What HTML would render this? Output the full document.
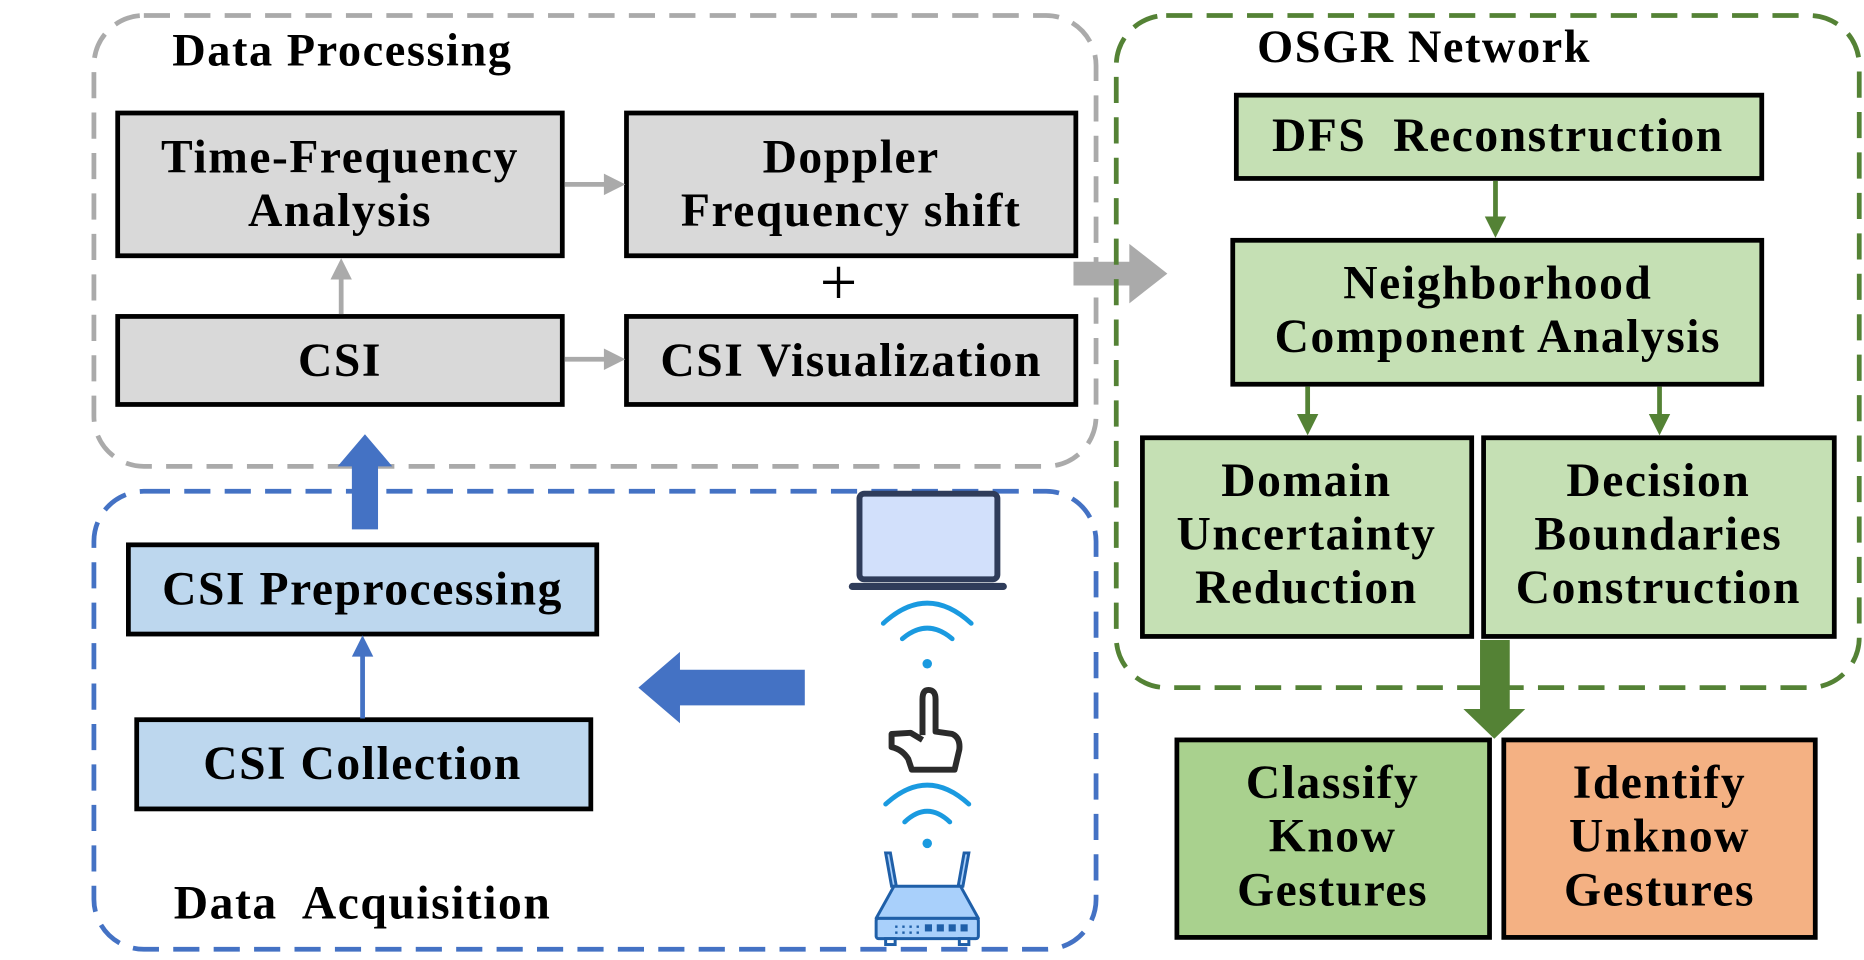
<!DOCTYPE html>
<html><head><meta charset="utf-8"><style>
html,body{margin:0;padding:0;background:#fff;}
svg{display:block;}
text{font-family:"Liberation Serif",serif;font-weight:bold;font-size:40px;letter-spacing:1.3px;fill:#000;text-anchor:middle;}
</style></head><body>
<svg width="1864" height="960" viewBox="0 0 1568 807" preserveAspectRatio="none" xmlns="http://www.w3.org/2000/svg">
<!-- Data processing -->
<rect x="79" y="13" width="843" height="379" rx="42" fill="none" stroke="#aaaaaa" stroke-width="4" stroke-dasharray="22 12"/>
<text x="288" y="55" style="font-size:39px">Data Processing</text>
<rect x="99" y="95" width="374" height="120" fill="#d9d9d9" stroke="#000" stroke-width="4"/>
<text x="286" y="145">Time-Frequency</text><text x="286" y="190">Analysis</text>
<rect x="527" y="95" width="378" height="120" fill="#d9d9d9" stroke="#000" stroke-width="4"/>
<text x="716" y="145">Doppler</text><text x="716" y="190">Frequency shift</text>
<text x="706" y="256" style="font-size:56px;font-weight:normal">+</text>
<rect x="99" y="266" width="374" height="74" fill="#d9d9d9" stroke="#000" stroke-width="4"/>
<text x="286" y="316">CSI</text>
<rect x="527" y="266" width="378" height="74" fill="#d9d9d9" stroke="#000" stroke-width="4"/>
<text x="716" y="316">CSI Visualization</text>
<g fill="#aaaaaa" stroke="#aaaaaa">
<line x1="475" y1="155" x2="510" y2="155" stroke-width="4"/><polygon points="508,146 526,155 508,164" stroke="none"/>
<line x1="475" y1="302" x2="510" y2="302" stroke-width="4"/><polygon points="508,293 526,302 508,311" stroke="none"/>
<line x1="287" y1="264" x2="287" y2="233" stroke-width="4"/><polygon points="278,235 287,217 296,235" stroke="none"/>
<polygon points="903,220 950,220 950,205 982,230 950,255 950,240 903,240" stroke="none"/>
</g>
<!-- Data acquisition -->
<rect x="79" y="413" width="843" height="385" rx="42" fill="none" stroke="#4472c4" stroke-width="4" stroke-dasharray="22 12"/>
<polygon points="296,445 318,445 318,392 330,392 307,365 284,392 296,392" fill="#4472c4"/>
<rect x="108" y="458" width="394" height="75" fill="#bdd7ee" stroke="#000" stroke-width="4"/>
<text x="305" y="508">CSI Preprocessing</text>
<rect x="115" y="605" width="382" height="75" fill="#bdd7ee" stroke="#000" stroke-width="4"/>
<text x="305" y="655">CSI Collection</text>
<line x1="305" y1="604" x2="305" y2="550" stroke="#4472c4" stroke-width="4"/><polygon points="296,552 305,534 314,552" fill="#4472c4"/>
<polygon points="677,563 572,563 572,548 537,578 572,608 572,593 677,593" fill="#4472c4"/>
<text x="305" y="772">Data&#160; Acquisition</text>
<!-- icons -->
<rect x="723" y="415" width="116" height="72" rx="4" fill="#d2e0fb" stroke="#2f3c5a" stroke-width="5"/>
<rect x="714" y="490" width="133" height="6" rx="3" fill="#2f3c5a"/>
<g fill="none" stroke="#1a9ae0" stroke-width="4" stroke-linecap="round">
<path d="M743,524 Q780,490 817,524"/><path d="M759,537 Q780,519 801,537"/>
<path d="M745,676 Q780,644 815,676"/><path d="M761,691 Q780,673 799,691"/>
</g>
<circle cx="780" cy="558" r="4" fill="#1a9ae0"/><circle cx="780" cy="709" r="4" fill="#1a9ae0"/>
<path d="M776,618 L776,588 Q776,580 781,580 Q787,580 787,588 L787,615 L801,617 Q808,620 807,630 L803,647 L767,647 L764,638 Q759,630 750,628 L750,617 L766,616 L776,622" fill="#fff" stroke="#2b2b2b" stroke-width="5" stroke-linejoin="round"/>
<g stroke="#1f5fa8" stroke-width="2.5">
<path d="M745,717 L749,717 L754,745 L750,745 Z" fill="#a9d0fb"/>
<path d="M811,717 L815,717 L810,745 L806,745 Z" fill="#a9d0fb"/>
<path d="M752,745 L808,745 L823,772 L737,772 Z" fill="#a9d0fb" stroke-linejoin="round"/>
<rect x="737" y="772" width="86" height="17" rx="2" fill="#a9d0fb"/>
<rect x="745" y="789" width="8" height="5" fill="#fff"/><rect x="807" y="789" width="8" height="5" fill="#fff"/>
</g>
<g fill="#1f5fa8"><rect x="753" y="778" width="2" height="2"/><rect x="759" y="778" width="2" height="2"/><rect x="765" y="778" width="2" height="2"/><rect x="771" y="778" width="2" height="2"/>
<rect x="753" y="783" width="2" height="2"/><rect x="759" y="783" width="2" height="2"/><rect x="765" y="783" width="2" height="2"/><rect x="771" y="783" width="2" height="2"/>
<rect x="778" y="777" width="6" height="6"/><rect x="788" y="777" width="6" height="6"/><rect x="798" y="777" width="6" height="6"/><rect x="808" y="777" width="6" height="6"/></g>
<!-- OSGR -->
<rect x="939" y="13" width="625" height="565" rx="42" fill="none" stroke="#548235" stroke-width="4" stroke-dasharray="22 12"/>
<text x="1198" y="52" style="font-size:39px">OSGR Network</text>
<rect x="1040" y="80" width="442" height="70" fill="#c5e0b4" stroke="#000" stroke-width="4"/>
<text x="1260" y="127">DFS&#160; Reconstruction</text>
<rect x="1037" y="202" width="445" height="121" fill="#c5e0b4" stroke="#000" stroke-width="4"/>
<text x="1260" y="251">Neighborhood</text><text x="1260" y="296">Component Analysis</text>
<rect x="961" y="368" width="277" height="167" fill="#c5e0b4" stroke="#000" stroke-width="4"/>
<text x="1099" y="417">Domain</text><text x="1099" y="462">Uncertainty</text><text x="1099" y="507">Reduction</text>
<rect x="1248" y="368" width="295" height="167" fill="#c5e0b4" stroke="#000" stroke-width="4"/>
<text x="1395" y="417">Decision</text><text x="1395" y="462">Boundaries</text><text x="1395" y="507">Construction</text>
<g fill="#548235" stroke="#548235">
<line x1="1258" y1="152" x2="1258" y2="184" stroke-width="4"/><polygon points="1249,182 1258,200 1267,182" stroke="none"/>
<line x1="1100" y1="325" x2="1100" y2="350" stroke-width="4"/><polygon points="1091,348 1100,366 1109,348" stroke="none"/>
<line x1="1396" y1="325" x2="1396" y2="350" stroke-width="4"/><polygon points="1387,348 1396,366 1405,348" stroke="none"/>
<polygon points="1245,538 1270,538 1270,596 1283,596 1257,621 1231,596 1245,596" stroke="none"/>
</g>
<rect x="990" y="622" width="263" height="166" fill="#a9d18e" stroke="#000" stroke-width="4"/>
<text x="1121" y="671">Classify</text><text x="1121" y="716">Know</text><text x="1121" y="761">Gestures</text>
<rect x="1265" y="622" width="262" height="166" fill="#f4b183" stroke="#000" stroke-width="4"/>
<text x="1396" y="671">Identify</text><text x="1396" y="716">Unknow</text><text x="1396" y="761">Gestures</text>
</svg>
</body></html>
